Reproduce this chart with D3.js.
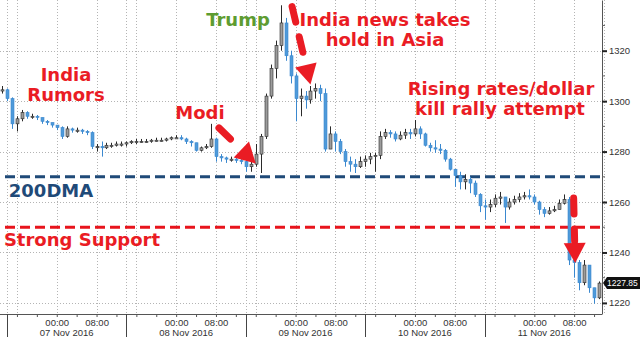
<!DOCTYPE html>
<html><head><meta charset="utf-8">
<script src="https://cdn.jsdelivr.net/npm/d3@7"></script>
<style>html,body{margin:0;padding:0;background:#fff;} svg{display:block}</style>
</head><body>
<svg id="c" width="640" height="340"></svg>
<script>
// ---- data (hourly bars, first bar Nov 6 2016 13:00 chart time) ----
const firstOpen = 1304;
const closes = [1304.5,1301,1291,1293,1295.5,1294,1294,1293.5,1292,1291.5,
 1290.5,1289.5,1286,1289,1288.5,1288.5,1288,1287.5,1282,1282,
 1281.5,1282.5,1282.5,1283,1283,1283.5,1284,1284,1284,1284,
 1284.5,1284.5,1284.5,1285,1285.5,1285.5,1285,1284,1283.5,1280.5,
 1281.5,1282,1285,1278,1277.5,1277,1277,1276.5,1276,1274,
 1275,1279,1286,1302,1313,1322,1331,1318,1310,1301,
 1302,1300.5,1304,1305,1303,1281,1287,1284,1280,1276,
 1275,1274,1276,1277,1278,1278.5,1286,1287.5,1287,1285,
 1286.5,1287.5,1287,1289,1287,1282.5,1281.5,1281,1280.5,1277,
 1273,1270.5,1268,1269,1267.5,1263,1258.5,1258,1259,1261.5,
 1262,1258,1260,1261,1262,1262.5,1262,1260,1257,1255.5,
 1256.5,1257,1259.5,1261,1237,1236,1228,1235,1226,1222,
 1227.85];
const highs = [1306,1305,1301.5,1294,1296.5,1296,1295,1294.5,1293.5,1292.5,
 1291.5,1290.5,1290,1290,1289.5,1289.5,1289,1288.5,1288,1283,
 1284,1283.5,1283.5,1284,1284,1284,1284.5,1285,1285,1285,
 1285,1285.5,1285.5,1285.5,1286,1286.5,1286.5,1285.5,1284.5,1283.5,
 1282,1283,1291,1285.5,1279,1278,1278,1277.5,1277.5,1276.5,
 1277,1283,1287,1303,1314.5,1324,1338,1333,1320,1311,
 1305,1304,1306,1307,1306.5,1305,1290,1288,1285,1281,
 1278,1277,1278,1278.5,1279.5,1279.5,1288,1289,1288.5,1288,
 1288,1289,1289,1292.5,1290,1287.5,1283.5,1284.5,1283,1281,
 1277.5,1273,1272,1271,1270,1268.5,1263.5,1261,1261,1263,
 1264,1262,1261.5,1262.5,1263.5,1264,1265,1263,1260.5,1258,
 1258,1258.5,1261,1263,1262,1242,1237,1237,1235,1226,
 1228.5];
const lows = [1303,1300,1289,1288,1292,1293,1293,1292.5,1291,1290.5,
 1289.5,1288.5,1285,1285.5,1287.5,1287.5,1287,1286.5,1281,1280,
 1278,1281,1281.5,1282,1282,1282,1283,1283,1283.5,1283.5,
 1283.5,1284,1284,1284,1284.5,1285,1284.5,1283,1282,1280,
 1280,1281,1281.5,1276,1276,1275.5,1276,1275.5,1275,1272,
 1272,1274,1271.5,1285,1301,1309,1320,1316,1307,1292,
 1294,1297,1299,1301,1300,1280,1281,1280,1279,1274,
 1272,1271.5,1273.5,1274,1275,1272,1277,1285,1285.5,1284,
 1284.5,1285,1285,1286,1285,1282,1280,1279.5,1279,1276,
 1272.5,1266,1265,1265,1263.5,1262,1256,1253,1256,1258,
 1259,1251.7,1257,1259,1260,1261,1261,1259,1255,1254,
 1255,1256,1257,1259,1235,1230,1225,1227,1224,1219.7,
 1221.5];
const yTicks = [1220,1240,1260,1280,1300,1320];
const yMinorTicks = [1230,1250,1270,1290,1310,1330];
const lastPrice = 1227.85;
const levels = [
  {name:"200DMA", value:1270, color:"#1f4a78"},
  {name:"Strong Support", value:1250, color:"#e8141c"}
];
const timeLabelHours = [0, 8];
// annotation arrows: [hours after Nov 6 14:00, price]
const arrows = [
  {from:[42.6, 1289.4], to:[50.0, 1275.3]},
  {from:[57.3, 1337.5], to:[61.0, 1306.6]},
  {from:[113.9, 1261.6], to:[114.2, 1235.8]}
];

// ---- scales ----
const H = 3600e3;
const t0 = Date.UTC(2016,10,6,14);
const firstBar = Date.UTC(2016,10,6,13);
const W = 640, plotRight = 602, plotBottom = 314;
const x = d3.scaleUtc().domain([new Date(t0), new Date(t0 + 120*H)]).range([7, 604]);
const y = d3.scaleLinear().domain([1215.6, 1340.1]).range([314, 0]);

const bars = closes.map((c,i)=>({
  t: new Date(firstBar + i*H),
  o: i===0 ? firstOpen : closes[i-1],
  h: highs[i], l: lows[i], c: c
}));

const svg = d3.select("#c");
svg.append("rect").attr("width",W).attr("height",340).attr("fill","#fff");
svg.append("defs").append("clipPath").attr("id","plot")
  .append("rect").attr("x",0).attr("y",0).attr("width",plotRight).attr("height",plotBottom);

const FONT = "'Liberation Sans', Arial, sans-serif";
const grid = "#b4b4b4";

// horizontal gridlines
svg.append("g").selectAll("line").data(yTicks).join("line")
  .attr("x1",0).attr("x2",plotRight)
  .attr("y1",d=>Math.round(y(d))+0.5).attr("y2",d=>Math.round(y(d))+0.5)
  .attr("stroke",grid).attr("stroke-dasharray","1,2");

// vertical gridlines
const allHours = d3.utcHour.range(new Date(t0), new Date(t0+120*H+1));
const gridHours = allHours.filter(d=>[14,16,0,8].includes(d.getUTCHours()));
svg.append("g").selectAll("line").data(gridHours).join("line")
  .attr("x1",d=>Math.round(x(d))+0.5).attr("x2",d=>Math.round(x(d))+0.5)
  .attr("y1",0).attr("y2",plotBottom)
  .attr("stroke",grid).attr("stroke-dasharray","1,2");

// level lines
svg.append("g").selectAll("line").data(levels).join("line")
  .attr("x1",5).attr("x2",plotRight)
  .attr("y1",d=>y(d.value)).attr("y2",d=>y(d.value))
  .attr("stroke",d=>d.color).attr("stroke-width",3).attr("stroke-dasharray","10,5");

// candles
const cg = svg.append("g").attr("clip-path","url(#plot)");
const upStroke = "#2a2a2a", upFill = "#9c9c9c", dnStroke = "#3a88cf", dnFill = "#4f9ad9";
const bw = 3;
const cs = cg.selectAll("g").data(bars).join("g");
cs.append("line")
  .attr("x1",d=>Math.round(x(d.t))+0.5).attr("x2",d=>Math.round(x(d.t))+0.5)
  .attr("y1",d=>y(d.h)).attr("y2",d=>y(d.l))
  .attr("stroke",d=>d.c>=d.o?upStroke:dnStroke).attr("stroke-width",1);
cs.append("rect")
  .attr("x",d=>Math.round(x(d.t))-1)
  .attr("width",bw)
  .attr("y",d=>y(Math.max(d.o,d.c)))
  .attr("height",d=>Math.max(1.2, Math.abs(y(d.o)-y(d.c))))
  .attr("fill",d=>d.c>=d.o?upFill:dnFill)
  .attr("stroke",d=>d.c>=d.o?upStroke:dnStroke).attr("stroke-width",0.6);

// right axis
const ya = svg.append("g").attr("transform",`translate(${plotRight},0)`)
  .call(d3.axisRight(y).tickValues(yTicks).tickSize(5).tickSizeOuter(0).tickPadding(2).tickFormat(d3.format("d")));
ya.select(".domain").attr("stroke","#555");
ya.selectAll(".tick line").attr("stroke","#222").attr("stroke-width",2);
ya.selectAll(".tick text").attr("font-family",FONT).attr("font-size",9.5).attr("fill","#333");
svg.append("g").selectAll("line").data(yMinorTicks).join("line")
  .attr("x1",plotRight).attr("x2",plotRight+3)
  .attr("y1",d=>y(d)).attr("y2",d=>y(d)).attr("stroke","#666");

// bottom axis
svg.append("line").attr("x1",0).attr("x2",plotRight).attr("y1",plotBottom+0.5).attr("y2",plotBottom+0.5).attr("stroke","#555");
const minorHours = allHours.filter(d=>d.getUTCHours()%4===0 && x(d)<=plotRight);
const xa = svg.append("g").attr("transform",`translate(0,${plotBottom})`)
  .call(d3.axisBottom(x).tickValues(minorHours).tickSize(3).tickPadding(2)
    .tickFormat(d=>timeLabelHours.includes(d.getUTCHours()) ? d3.utcFormat("%H:%M")(d) : ""));
xa.select(".domain").remove();
xa.selectAll(".tick line").attr("stroke","#555");
xa.selectAll(".tick text").attr("font-family",FONT).attr("font-size",9.5).attr("fill","#333");
// session separators
const seps = allHours.filter(d=>d.getUTCHours()===14 && x(d)<=plotRight);
svg.append("g").selectAll("line").data(seps).join("line")
  .attr("x1",d=>Math.round(x(d))+0.5).attr("x2",d=>Math.round(x(d))+0.5)
  .attr("y1",plotBottom).attr("y2",337).attr("stroke","#444");
// day labels centred in each session
const dayCenters = allHours.filter(d=>d.getUTCHours()===2);
svg.append("g").selectAll("text").data(dayCenters).join("text")
  .attr("x",d=>x(d)).attr("y",336).attr("text-anchor","middle")
  .attr("font-family",FONT).attr("font-size",9.5).attr("fill","#333")
  .text(d=>d3.utcFormat("%d %b %Y")(d));

// last price tag
const yl = y(lastPrice);
svg.append("path")
  .attr("d",`M${plotRight+1},${yl} L${plotRight+5},${yl-6} L${W},${yl-6} L${W},${yl+6} L${plotRight+5},${yl+6} Z`)
  .attr("fill","#111");
svg.append("text").attr("x",plotRight+5).attr("y",yl+3)
  .attr("font-family",FONT).attr("font-size",8.5).attr("fill","#fff").text(d3.format(".2f")(lastPrice));

// annotations
const RED = "#ea1c24";
const BOLD = "'DejaVu Sans', Verdana, sans-serif";
function label(txt, cx, by, color){
  svg.append("text").attr("x",cx).attr("y",by).attr("text-anchor","middle")
    .attr("font-family",BOLD).attr("font-weight","bold").attr("font-size",18)
    .attr("fill",color).text(txt);
}
label("India",66,81,RED);
label("Rumors",66,101,RED);
label("Modi",200,119,RED);
label("Trump",238,26,"#5e9c31");
label("India news takes",385,26,RED);
label("hold in Asia",385,46,RED);
label("Rising rates/dollar",501,95,RED);
label("kill rally attempt",500,115,RED);
label("200DMA",51,197,levels[0].color);
label("Strong Support",82,246,RED);

// arrows
const hx = h => x(new Date(t0 + h*H));
arrows.forEach(a=>{
  const sx=hx(a.from[0]), sy=y(a.from[1]), tx=hx(a.to[0]), ty=y(a.to[1]);
  const dx=tx-sx, dy=ty-sy, len=Math.hypot(dx,dy), ux=dx/len, uy=dy/len;
  const hl=20, hw=11;
  const bx=tx-ux*hl, by=ty-uy*hl;
  svg.append("line").attr("x1",sx).attr("y1",sy).attr("x2",bx-ux*2).attr("y2",by-uy*2)
    .attr("stroke",RED).attr("stroke-width",7).attr("stroke-linecap","round")
    .attr("stroke-dasharray","16,15");
  svg.append("path")
    .attr("d",`M${tx},${ty} L${bx-uy*hw},${by+ux*hw} L${bx+uy*hw},${by-ux*hw} Z`)
    .attr("fill",RED);
});
</script>
</body></html>
